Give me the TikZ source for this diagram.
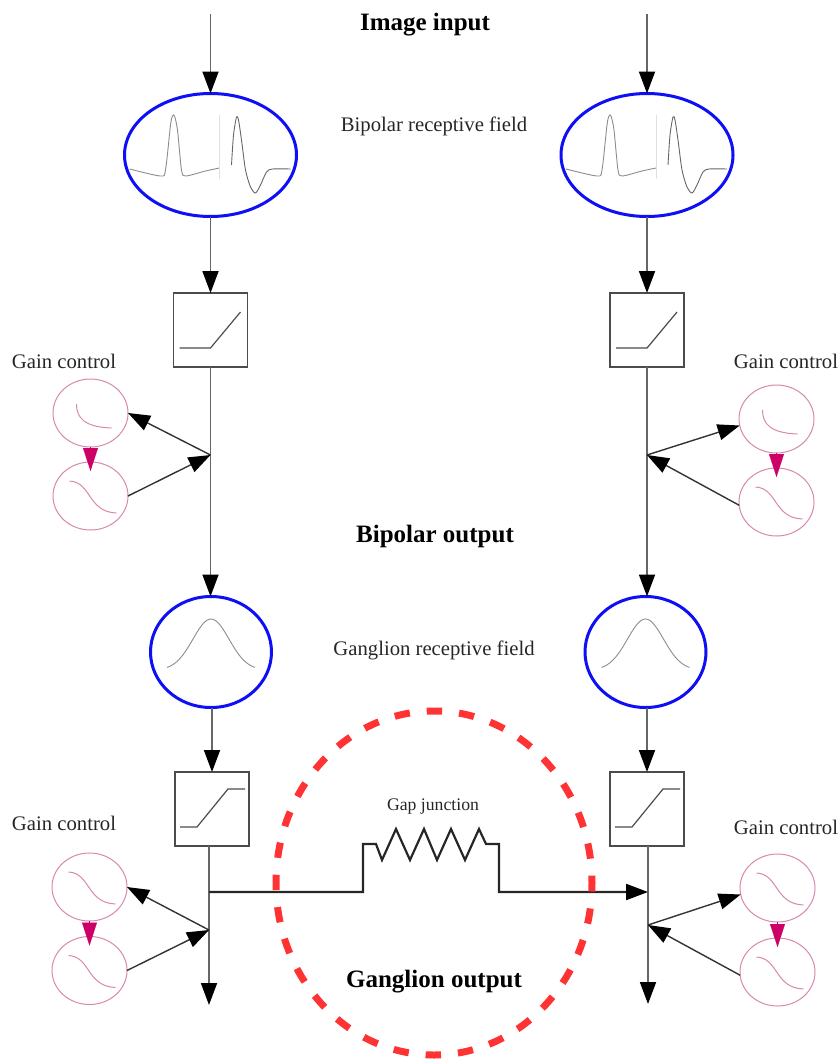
\documentclass[tikz,border=0pt]{standalone}
\usepackage{fontspec}
\setmainfont{Liberation Serif}
\usetikzlibrary{arrows.meta,shapes.geometric}

\definecolor{gainpink}{HTML}{D987AE}
\definecolor{tippink}{HTML}{CC0066}
\definecolor{fieldblue}{HTML}{0F0FF5}
\definecolor{gapred}{HTML}{FF3333}

\tikzset{
  field node/.style={ellipse,draw=fieldblue,line width=3pt,inner sep=0pt,outer sep=0pt},
  gain node/.style={ellipse,draw=gainpink,line width=1pt,inner sep=0pt,outer sep=0pt,
    minimum width=75pt,minimum height=68pt},
  rect node/.style={rectangle,draw=black!70,line width=1.4pt,inner sep=0pt,outer sep=0pt,minimum size=74pt},
  title node/.style={font=\fontsize{25}{25}\selectfont\bfseries},
  label node/.style={font=\fontsize{20.7}{21}\selectfont,text=black!85},
  flow/.style={-{Triangle[length=22pt,width=16pt,color=black]},line width=1.8pt,draw=black!60},
  feed/.style={-{Triangle[length=22pt,width=16pt,color=black]},line width=1.4pt,draw=black!80},
  wire/.style={line width=1.8pt,draw=black!60},
  curve/.style={draw=black!45,line width=.9pt},
  gain curve/.style={draw=gainpink,line width=1pt},
  bipolar curves/.pic={
    \draw[curve] plot[smooth,tension=.45] coordinates {(-81,14) (-50,21) (-45,15) (-40,-30) (-38,-39) (-36,-39) (-33,-25) (-29,15) (-25,21) (-5,16) (9,13)};
    \draw[curve,black!60] plot[smooth,tension=.45] coordinates {(21,10) (23,-20) (26,-38) (28,-35) (31,-15) (35,15) (40,32) (45,38) (50,30) (56,17) (62,14) (80,14)};
    \draw[black!12,line width=.5pt] (9,-40) -- (9,24);
  },
  bell curve/.pic={
    \draw[curve] plot[domain=-44:44,samples=45,smooth] (\x,{18-51*exp(-(\x*\x)/648)});
  },
  decay curve/.pic={
    \draw[gain curve] (-14,-9) .. controls (-14,5) and (-6,14) .. (21,15);
  },
  sigmoid curve/.pic={
    \draw[gain curve] (-21,-15) .. controls (1,-14) and (-3,16) .. (26,17);
  },
  rect curve/.pic={
    \draw[line width=1.2pt,black!70] (-31,18) -- (0,18) -- (30,-18);
  },
  sat curve/.pic={
    \draw[line width=1.2pt,black!70] (-32,18) -- (-15,18) -- (16,-20) -- (33,-20);
  }
}

\begin{document}
\begin{tikzpicture}[x=1pt,y=-1pt,auto]
  \useasboundingbox (0,0) rectangle (839,1060);

  % texts
  \node[title node] (imgtxt) at (425,25) {Image input};
  \node[title node] (biptxt) at (435,536) {Bipolar output};
  \node[title node] (gantxt) at (434,982) {Ganglion output};
  \node[label node] (rftxt1) at (434,126) {Bipolar receptive field};
  \node[label node] (rftxt2) at (434,650) {Ganglion receptive field};
  \node[label node,font=\fontsize{17.7}{18}\selectfont] (gaptxt) at (433,807) {Gap junction};
  \node[label node] (gaintxt1) at (64,361) {Gain control};
  \node[label node] (gaintxt2) at (786,361) {Gain control};
  \node[label node] (gaintxt3) at (64,823) {Gain control};
  \node[label node] (gaintxt4) at (786,827) {Gain control};

  % left column
  \coordinate (t1) at (210.5,14);
  \node[field node,minimum width=172pt,minimum height=123pt] (e1) at (210.5,155) {};
  \node[rect node] (b1) at (210.5,330) {};
  \coordinate (j1) at (210.5,455);
  \node[gain node] (g1) at (90.5,413) {};
  \node[gain node] (g2) at (90.5,496) {};
  \node[field node,minimum width=121pt,minimum height=111pt] (f1) at (211,652) {};
  \node[rect node] (c1) at (212,809) {};
  \coordinate (h1) at (209,892);
  \coordinate (j3) at (209,930);
  \coordinate (o1) at (209,1005);
  \node[gain node] (g5) at (89.5,887) {};
  \node[gain node] (g6) at (89.5,970.5) {};

  % right column
  \coordinate (t2) at (647,14);
  \node[field node,minimum width=172pt,minimum height=123pt] (e2) at (647,155) {};
  \node[rect node] (b2) at (647,330) {};
  \coordinate (j2) at (647,455);
  \node[gain node] (g3) at (776.5,419) {};
  \node[gain node] (g4) at (776.5,502) {};
  \node[field node,minimum width=121pt,minimum height=111pt] (f2) at (645.5,652) {};
  \node[rect node] (c2) at (647,809) {};
  \coordinate (h2) at (648,892);
  \coordinate (j4) at (648,925);
  \coordinate (o2) at (648,1004);
  \node[gain node] (g7) at (777.5,888) {};
  \node[gain node] (g8) at (777.5,972) {};

  % small curves
  \pic at (e1) {bipolar curves};
  \pic at (e2) {bipolar curves};
  \pic at (f1) {bell curve};
  \pic at (f2) {bell curve};
  \pic at (b1) {rect curve};
  \pic at (b2) {rect curve};
  \pic at (c1) {sat curve};
  \pic at (c2) {sat curve};
  \pic at (g1) {decay curve};
  \pic at (g3) {decay curve};
  \pic at (g2) {sigmoid curve};
  \pic at (g4) {sigmoid curve};
  \pic at (g5) {sigmoid curve};
  \pic at (g6) {sigmoid curve};
  \pic at (g7) {sigmoid curve};
  \pic at (g8) {sigmoid curve};

  \path
    (t1) edge [flow] (e1.north)
    (t2) edge [flow] (e2.north)
    (e1.south) edge [flow] (b1.north)
    (e2.south) edge [flow] (b2.north)
    (b1.south) edge [wire] (j1)
    (b2.south) edge [wire] (j2)
    (j1) edge [flow] (j1 |- f1.north)
    (j2) edge [flow] (j2 |- f2.north)
    (c1.north |- f1.south) edge [flow] (c1.north)
    (c2.north |- f2.south) edge [flow] (c2.north)
    (c1.south -| h1) edge [wire] (j3)
    (c2.south -| j4) edge [wire] (j4)
    (j3) edge [flow] (o1)
    (j4) edge [flow] (o2)
    (j1) edge [feed] (g1.east)
    (g2.east) edge [feed] (j1)
    (j2) edge [feed] (g3.190)
    (g4.185) edge [feed] (j2)
    (j3) edge [feed] (g5.east)
    (g6.east) edge [feed] (j3)
    (j4) edge [feed] (g7.190)
    (g8.185) edge [feed] (j4)
    ;

  \foreach \a/\b in {g1/g2,g3/g4,g5/g6,g7/g8}
    \path (\a.south) edge [-{Triangle[length=23pt,width=15pt]},draw=tippink,line width=.1pt,shorten >=-9pt] (\b.north);

  % gap junction line
  \draw[-{Triangle[length=22pt,width=16pt,color=black]},line width=2.2pt,black!85,line join=miter] (h1) -- (363,892) -- (363,844) -- (376,844) -- (382,860)
    -- (396,829) -- (410,860) -- (424,829) -- (437,860) -- (451,829) -- (465,860) -- (479,829) -- (486,844)
    -- (499,844) -- (499,892) -- (h2);

  % red circle
  \node[ellipse,draw=gapred,line width=7pt,dash pattern=on 15.4pt off 17pt,dash phase=8pt,inner sep=0pt,
    minimum width=316pt,minimum height=344pt] (gapmark) at (434,883) {};
\end{tikzpicture}
\end{document}
